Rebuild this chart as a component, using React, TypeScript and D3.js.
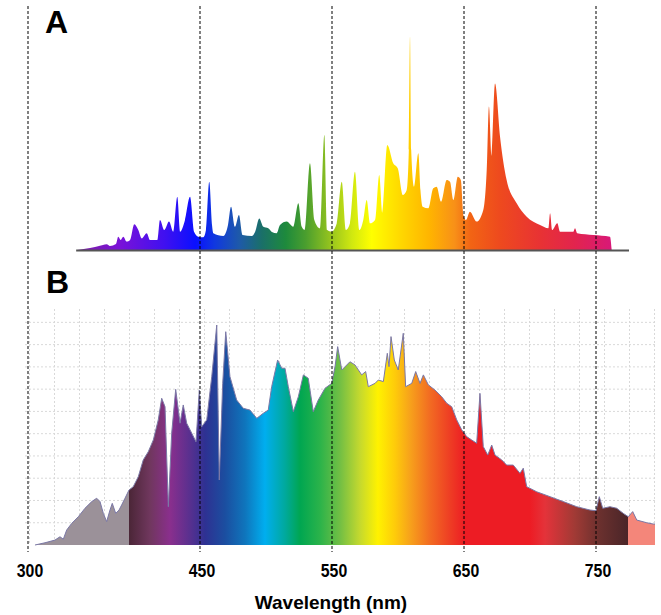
import React from "react";
import * as d3 from "d3";

// ---- axis ----
const tickValues = [300, 450, 550, 650, 750];
const tickLabels = ["300", "450", "550", "650", "750"];
const axisTitle = "Wavelength (nm)";
const panelLabels = ["A", "B"];

// ---- spectrum A (relative intensity, 0-100) ----
const wavelengthsA = [
  343.0, 354.1, 358.4, 365.4, 368.6, 371.5, 376.7, 378.7, 380.8, 383.1, 386.1, 389.0, 392.7, 396.2,
  399.2, 403.5, 406.4, 412.8, 415.1, 418.9, 423.0, 426.7, 430.2, 432.6, 436.9, 441.3, 444.8, 448.5,
  452.5, 454.5, 457.0, 459.1, 460.1, 467.7, 471.2, 473.5, 476.5, 479.5, 482.3, 489.2, 491.7, 494.9,
  498.0, 501.7, 504.5, 508.1, 510.6, 515.7, 520.7, 524.5, 527.1, 529.5, 533.3, 536.6, 540.9, 544.2,
  546.4, 549.8, 553.6, 557.4, 560.6, 563.6, 567.4, 570.7, 573.7, 576.3, 578.8, 582.6, 585.8, 588.1,
  591.9, 596.4, 599.8, 603.6, 606.6, 608.2, 609.1, 610.0, 612.1, 615.4, 617.0, 618.7, 623.0, 626.7,
  629.3, 632.6, 636.9, 639.4, 641.9, 645.3, 647.6, 649.5, 651.5, 654.5, 659.6, 664.6, 667.2, 668.9,
  670.8, 673.5, 677.3, 682.3, 689.9, 697.5, 707.6, 713.9, 715.2, 716.9, 720.7, 722.7, 732.8, 734.1,
  735.8, 748.0, 760.6, 761.9,
];
const intensityA = [
  0, 0.9, 1.4, 2.3, 2.7, 1.9, 2.8, 6.2, 4.7, 6.2, 3.9, 4.7, 12.0, 9.3,
  5.4, 7.8, 4.7, 4.7, 14.0, 9.3, 13.2, 8.5, 24.8, 8.5, 14.0, 24.8, 8.5, 6.2,
  5.9, 9.3, 31.8, 11.6, 7.8, 6.5, 11.6, 20.1, 10.8, 16.3, 7.0, 6.5, 8.4, 14.7,
  10.8, 10.1, 8.4, 7.8, 11.6, 13.2, 10.8, 21.7, 10.8, 9.3, 40.3, 14.0, 10.1, 53.5,
  9.3, 8.5, 12.4, 31.8, 9.3, 12.4, 36.4, 9.3, 14.0, 23.3, 12.4, 14.0, 34.9, 17.1,
  48.8, 40.3, 38.0, 25.6, 27.9, 46.5, 99.2, 46.5, 29.4, 45.0, 27.9, 20.1, 19.4, 28.7,
  29.4, 22.5, 32.6, 31.8, 23.3, 34.1, 32.6, 16.3, 14.0, 17.8, 13.2, 18.6, 37.2, 66.7,
  43.4, 77.5, 52.7, 32.6, 21.7, 15.5, 11.6, 10.1, 17.1, 9.3, 12.4, 8.5, 8.5, 10.1,
  7.8, 7.0, 6.2, 0,
];
const baselineA = [342, 775];
const colorNmA = [343, 380, 419, 446, 461, 480, 497, 515, 530, 549, 565, 580, 602, 624, 643, 655, 677, 708, 734, 762];
const colorsA = [
  "#7b1fa2", "#7a12d8", "#4010f0", "#0a10ff", "#1038e0", "#1e5aa8", "#1a7068", "#1e8a3c", "#4a9e2e",
  "#96c41e", "#d0e810", "#ffff00", "#ffd800", "#ffb400", "#f89018", "#f26414", "#ee4a1e", "#e83234",
  "#e2244e", "#d81878",
];

// ---- spectrum B (relative intensity, grid step 10) ----
const wavelengthsB = [
  306.1, 314.8, 323.5, 327.9, 330.8, 333.7, 338.1, 343.9, 349.7, 355.6, 359.9, 362.8, 365.7, 368.6,
  371.5, 373.5, 376.5, 379.4, 381.7, 384.6, 388.1, 391.8, 396.2, 400.5, 404.9, 409.3, 413.6, 416.6,
  419.5, 422.4, 425.3, 428.8, 432.6, 435.4, 438.4, 442.8, 446.5, 449.4, 451.3, 455.1, 458.9, 462.7,
  464.6, 467.2, 469.5, 472.7, 477.8, 482.8, 487.9, 493.0, 498.0, 501.7, 504.3, 508.8, 511.9, 514.4,
  516.9, 520.7, 524.5, 528.3, 532.0, 535.8, 539.6, 544.7, 549.8, 552.3, 554.3, 557.4, 563.6, 567.4,
  572.5, 575.5, 577.5, 582.6, 585.1, 588.9, 591.9, 593.2, 594.7, 597.2, 600.2, 604.0, 605.8, 610.4,
  613.4, 616.7, 619.2, 623.0, 628.0, 633.1, 636.9, 640.7, 644.5, 648.3, 652.0, 655.8, 659.6, 662.1,
  664.6, 668.0, 671.0, 673.5, 678.6, 682.3, 687.3, 692.4, 694.9, 697.5, 705.1, 715.2, 725.2, 735.4,
  745.5, 750.0, 752.5, 755.1, 760.6, 765.7, 770.7, 774.5, 777.8, 780.9, 788.4, 793.4, 794.7,
];
const intensityB = [
  0, 1.0, 2.2, 3.7, 2.6, 6.7, 9.7, 12.7, 16.5, 19.5, 21.0, 19.5, 14.2, 10.5,
  15.7, 18.7, 14.2, 15.7, 18.0, 21.0, 24.7, 26.2, 30.7, 38.2, 41.9, 47.2, 56.2, 65.9,
  62.1, 17.2, 50.2, 69.9, 54.7, 62.9, 54.7, 50.2, 46.4, 69.6, 53.1, 56.2, 75.6, 98.8,
  29.2, 72.6, 95.8, 75.6, 65.1, 61.4, 60.6, 56.9, 59.2, 60.6, 71.1, 83.1, 79.4, 79.4,
  71.1, 59.9, 66.6, 76.4, 74.9, 59.9, 65.1, 70.4, 72.6, 80.1, 89.1, 78.6, 82.3, 80.9,
  76.4, 77.9, 71.1, 72.6, 74.1, 73.4, 86.1, 80.1, 93.6, 83.1, 78.6, 95.1, 71.1, 72.6,
  77.9, 72.6, 76.4, 71.9, 69.6, 66.6, 63.7, 62.1, 56.2, 51.7, 48.7, 47.2, 45.7, 68.1,
  44.2, 40.4, 44.9, 40.4, 38.2, 35.9, 35.9, 32.2, 34.5, 26.2, 23.9, 21.7, 19.5, 17.2,
  15.7, 15.4, 21.7, 16.5, 17.2, 16.5, 14.2, 12.7, 15.0, 11.2, 10.0, 9.4, 9.4,
];
const gridValuesB = [10, 20, 30, 40, 50, 60, 70, 80, 90, 100];
const colorNmB = [
  301.7, 388.0, 388.1, 406.4, 423.8, 441.3, 453.8, 468.9, 484.1, 499.2, 514.4, 525.8, 540.9, 556.1,
  571.2, 584.8, 597.7, 609.1, 624.2, 639.4, 650.8, 700.0, 711.4, 734.1, 753.0, 774.1, 774.2, 794.7,
];
const colorsB = [
  "#9b9199", "#9b9199", "#4b2637", "#70375e", "#8a2f8d", "#58308f", "#2e3192", "#1b4ea0", "#0f75bc",
  "#00aeef", "#00a99d", "#00a651", "#2bb34a", "#72bf44", "#c5d92e", "#fff200", "#fecb0a", "#f7a21b",
  "#f26b22", "#ee3d24", "#ed1c24", "#ed1c24", "#e4333a", "#a03a35", "#6a302e", "#4a2528", "#f4867a",
  "#f4867a",
];

export default function App() {
  const W = 661;
  const H = 615;
  const x = d3.scaleLinear().domain(tickValues).range([28, 200, 332, 464, 596]);
  const yA = d3.scaleLinear().domain([0, 100]).range([250, 35]);
  const yB = d3.scaleLinear().domain([0, 106]).range([545, 309]);

  const dataA = wavelengthsA.map((w, i) => [w, intensityA[i]] as [number, number]);
  const dataB = wavelengthsB.map((w, i) => [w, intensityB[i]] as [number, number]);

  const areaA = d3
    .area<[number, number]>()
    .x((d) => x(d[0]))
    .y0(yA(0))
    .y1((d) => yA(d[1]))
    .curve(d3.curveMonotoneX);
  const areaB = d3
    .area<[number, number]>()
    .x((d) => x(d[0]))
    .y0(yB(0))
    .y1((d) => yB(d[1]))
    .curve(d3.curveLinear);
  const lineB = d3
    .line<[number, number]>()
    .x((d) => x(d[0]))
    .y((d) => yB(d[1]))
    .curve(d3.curveLinear);

  const bx0 = x(wavelengthsB[0]) - 6;
  const bx1 = x(wavelengthsB[wavelengthsB.length - 1]);
  const gridX = d3.range(0, 26).map((i) => 29.5 + i * 25);
  const gridTop = yB(106);

  const ax0 = x(colorNmA[0]);
  const ax1 = x(colorNmA[colorNmA.length - 1]);
  const gx0 = x(colorNmB[0]);
  const gx1 = x(colorNmB[colorNmB.length - 1]);

  const font = "'Liberation Sans', Arial, Helvetica, sans-serif";

  return (
    <svg
      width={W}
      height={H}
      viewBox={`0 0 ${W} ${H}`}
      style={{ position: "absolute", left: 0, top: 0, background: "#fff" }}
    >
      <defs>
        <linearGradient id="gradA" gradientUnits="userSpaceOnUse" x1={ax0} x2={ax1} y1={0} y2={0}>
          {colorNmA.map((nm, i) => (
            <stop key={i} offset={(x(nm) - ax0) / (ax1 - ax0)} stopColor={colorsA[i]} />
          ))}
        </linearGradient>
        <linearGradient id="gradB" gradientUnits="userSpaceOnUse" x1={gx0} x2={gx1} y1={0} y2={0}>
          {colorNmB.map((nm, i) => (
            <stop key={i} offset={(x(nm) - gx0) / (gx1 - gx0)} stopColor={colorsB[i]} />
          ))}
        </linearGradient>
      </defs>

      {/* Panel B grid */}
      <g stroke="#d9d9d9" strokeWidth={1} strokeDasharray="2,2">
        {gridX.map((gx, i) => (
          <line key={"gx" + i} x1={gx} x2={gx} y1={gridTop} y2={yB(0)} />
        ))}
        {gridValuesB.map((v, i) => (
          <line key={"gy" + i} x1={bx0 - 4} x2={bx1} y1={yB(v)} y2={yB(v)} />
        ))}
      </g>

      {/* Panel B spectrum */}
      <path d={areaB(dataB) || ""} fill="url(#gradB)" />
      <path d={lineB(dataB) || ""} fill="none" stroke="#7b78a6" strokeWidth={1} />

      {/* Panel A spectrum */}
      <path d={areaA(dataA) || ""} fill="url(#gradA)" />
      <line
        x1={x(baselineA[0])}
        x2={x(baselineA[1])}
        y1={yA(0) + 0.5}
        y2={yA(0) + 0.5}
        stroke="#555"
        strokeWidth={1.8}
      />

      {/* dashed reference lines */}
      <g stroke="#000" strokeWidth={1} strokeDasharray="3,2">
        {tickValues.map((t, i) => (
          <line key={"d" + i} x1={x(t)} x2={x(t)} y1={6} y2={552} />
        ))}
      </g>

      {/* panel labels */}
      <text x={45} y={33} fontFamily={font} fontWeight="bold" fontSize={32} fill="#000">
        {panelLabels[0]}
      </text>
      <text x={46} y={293} fontFamily={font} fontWeight="bold" fontSize={32} fill="#000">
        {panelLabels[1]}
      </text>

      {/* tick labels (condensed bold) */}
      {tickValues.map((t, i) => (
        <text
          key={"t" + i}
          transform={`translate(${x(t) + 2},577) scale(0.88,1)`}
          textAnchor="middle"
          fontFamily={font}
          fontWeight="bold"
          fontSize={18}
          fill="#000"
        >
          {tickLabels[i]}
        </text>
      ))}
      <text
        x={331}
        y={609}
        textAnchor="middle"
        fontFamily={font}
        fontWeight="bold"
        fontSize={19}
        fill="#000"
      >
        {axisTitle}
      </text>
    </svg>
  );
}
